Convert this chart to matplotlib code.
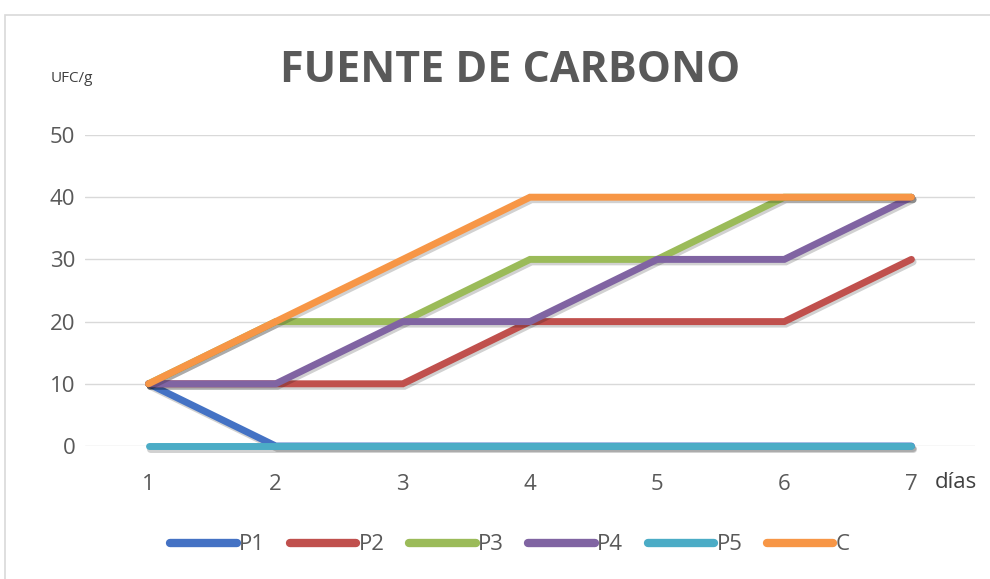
import matplotlib
matplotlib.use('Agg')
import matplotlib.pyplot as plt
import matplotlib.patheffects as pe
from matplotlib.patches import Rectangle

# ── Datos ─────────────────────────────────────────────────────────────────────
dias = [1, 2, 3, 4, 5, 6, 7]
p1 = [10, 0, 0, 0, 0, 0, 0]
p2 = [10, 10, 10, 20, 20, 20, 30]
p3 = [10, 20, 20, 30, 30, 40, 40]
p4 = [10, 10, 20, 20, 30, 30, 40]
p5 = [0, 0, 0, 0, 0, 0, 0]
c = [10, 20, 30, 40, 40, 40, 40]

series = [('P1', p1, '#4472C4'), ('P2', p2, '#C0504D'), ('P3', p3, '#9BBB59'),
          ('P4', p4, '#8064A2'), ('P5', p5, '#4BACC6'), ('C', c, '#F79646')]

GRIS = '#595959'
plt.rcParams['font.family'] = ['Open Sans', 'DejaVu Sans']
plt.rcParams['lines.solid_capstyle'] = 'round'

fig = plt.figure(figsize=(9.9, 5.79), dpi=100)
ax = fig.add_axes([85 / 990, 1 - 446 / 579, 890 / 990, 311 / 579])

# marco del gráfico
fig.patches.append(Rectangle((5 / 990, -0.01), 1.0, 1 - 15 / 579 + 0.01,
                             transform=fig.transFigure, fill=False,
                             edgecolor='#D9D9D9', linewidth=1.2))

sombra = [pe.SimpleLineShadow(offset=(1.2, -1.8), shadow_color='black', alpha=0.18),
          pe.Normal()]
for nombre, vals, color in series:
    ax.plot(dias, vals, color=color, linewidth=5, label=nombre,
            solid_capstyle='round', solid_joinstyle='miter',
            clip_on=False, path_effects=sombra)

ax.set_xlim(0.5, 7.5)
ax.set_ylim(0, 50)
ax.set_xticks(dias)
ax.set_yticks(range(0, 51, 10))
ax.grid(axis='y', color='#D9D9D9', linewidth=1)
ax.set_axisbelow(True)
for s in ax.spines.values():
    s.set_visible(False)
ax.tick_params(length=0, labelsize=16, labelcolor=GRIS)
ax.tick_params(axis='y', pad=7)
ax.tick_params(axis='x', pad=20)

fig.text(510 / 990, 1 - 70 / 579, 'FUENTE DE CARBONO', ha='center', va='center',
         fontsize=31, fontweight='bold', color=GRIS)
fig.text(72 / 990, 1 - 78 / 579, 'UFC/g', ha='center', va='center',
         fontsize=11, color='#404040')
fig.text(956 / 990, 1 - 483 / 579, 'días', ha='center', va='center',
         fontsize=16, color='#404040')

leg = fig.legend(loc='center', bbox_to_anchor=(510 / 990, 1 - 545 / 579), ncol=6,
                 frameon=False, fontsize=16, handlelength=3.0, handletextpad=0.1,
                 columnspacing=1.1, labelcolor=GRIS)
for h in leg.get_lines():
    h.set_linewidth(6)
    h.set_path_effects([])

plt.savefig('out.png', dpi=100)
plt.close()
